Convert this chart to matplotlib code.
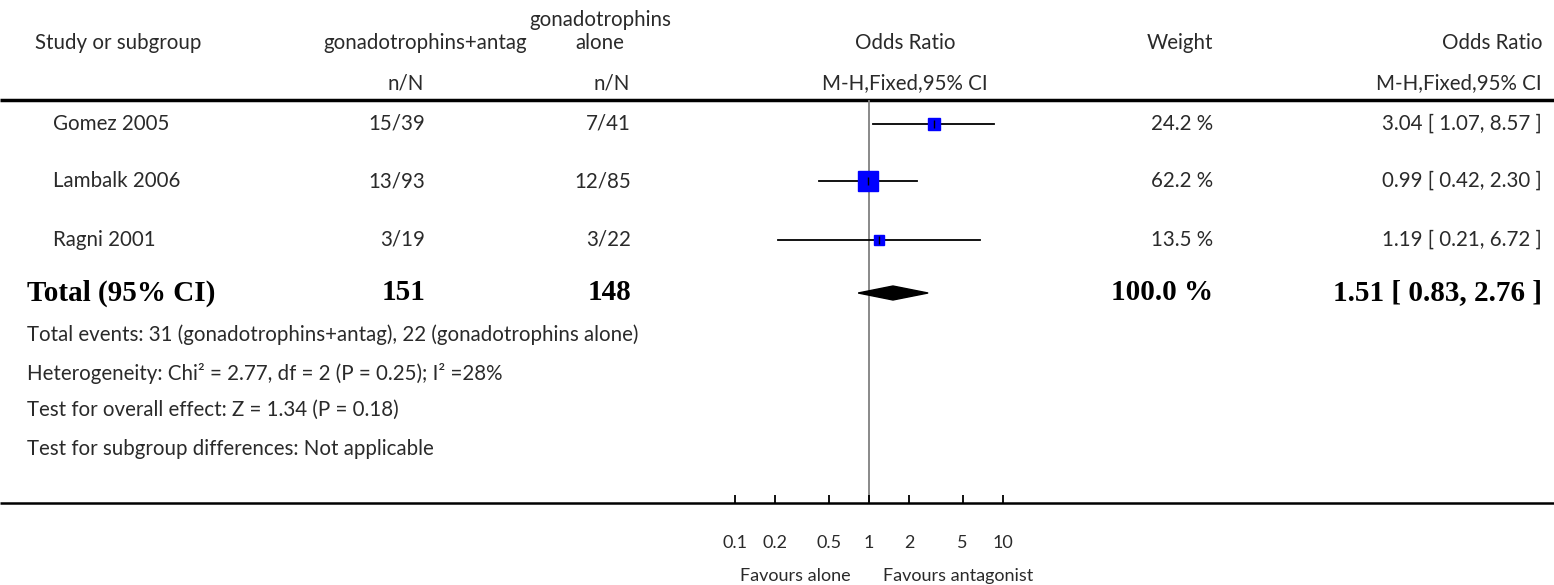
import matplotlib.pyplot as plt
import numpy as np

# data
studies = ["Gomez 2005", "Lambalk 2006", "Ragni 2001"]
antag_nN = ["15/39", "13/93", "3/19"]
alone_nN = ["7/41", "12/85", "3/22"]
odds = [3.04, 0.99, 1.19]
ci_low = [1.07, 0.42, 0.21]
ci_high = [8.57, 2.30, 6.72]
weights = [24.2, 62.2, 13.5]

total_antag = 151
total_alone = 148
total_or = 1.51
total_low = 0.83
total_high = 2.76
total_weight = 100.0

tick_vals = [0.1, 0.2, 0.5, 1, 2, 5, 10]
tick_labels = ["0.1", "0.2", "0.5", "1", "2", "5", "10"]

footer = [
    "Total events: 31 (gonadotrophins+antag), 22 (gonadotrophins alone)",
    "Heterogeneity: Chi\u00b2 = 2.77, df = 2 (P = 0.25); I\u00b2 =28%",
    "Test for overall effect: Z = 1.34 (P = 0.18)",
    "Test for subgroup differences: Not applicable",
]

W, H = 1554, 585
TXT = "#2a2a2a"
SANS = "Lato"
SERIF = "Liberation Serif"
fs = 14.8
bfs = 21

fig = plt.figure(figsize=(W / 100, H / 100), dpi=100)

# overlay axes in pixel coordinates for the table text
bg = fig.add_axes([0, 0, 1, 1])
bg.set_xlim(0, W)
bg.set_ylim(H, 0)
bg.axis("off")


def txt(x, y, s, ha="left", bold=False, size=fs):
    if bold:
        bg.text(x, y, s, ha=ha, va="center", fontsize=size, color="black",
                family=SERIF, fontweight="bold")
    else:
        bg.text(x, y, s, ha=ha, va="center", fontsize=size, color=TXT, family=SANS)


# header
txt(35, 43, "Study or subgroup")
txt(527, 43, "gonadotrophins+antag", ha="right")
txt(600, 20, "gonadotrophins", ha="center")
txt(600, 43, "alone", ha="center")
txt(905, 43, "Odds Ratio", ha="center")
txt(1213, 43, "Weight", ha="right")
txt(1542, 43, "Odds Ratio", ha="right")
txt(424, 83, "n/N", ha="right")
txt(630, 83, "n/N", ha="right")
txt(905, 83, "M-H,Fixed,95% CI", ha="center")
txt(1542, 83, "M-H,Fixed,95% CI", ha="right")

bg.plot([0, W], [100, 100], color="black", lw=2.5, solid_capstyle="butt")
bg.plot([0, W], [503, 503], color="black", lw=1.8, solid_capstyle="butt")

row_y = [124, 181, 240]
total_y = 293
for i, name in enumerate(studies):
    y = row_y[i]
    txt(53, y, name)
    txt(425, y, antag_nN[i], ha="right")
    txt(631, y, alone_nN[i], ha="right")
    txt(1213, y, f"{weights[i]:.1f} %", ha="right")
    txt(1542, y, f"{odds[i]:.2f} [ {ci_low[i]:.2f}, {ci_high[i]:.2f} ]", ha="right")

txt(27, total_y, "Total (95% CI)", bold=True, size=bfs)
txt(425, total_y, str(total_antag), ha="right", bold=True, size=bfs)
txt(631, total_y, str(total_alone), ha="right", bold=True, size=bfs)
txt(1213, total_y, f"{total_weight:.1f} %", ha="right", bold=True, size=bfs)
txt(1542, total_y, f"{total_or:.2f} [ {total_low:.2f}, {total_high:.2f} ]",
    ha="right", bold=True, size=bfs)

for s, y in zip(footer, [335, 373, 410, 449]):
    txt(27, y, s)

# forest plot axes: log scale, 0.1 .. 10
x0, x1 = 735, 1003
ax = fig.add_axes([x0 / W, (H - 503) / H, (x1 - x0) / W, (503 - 100) / H])
ax.set_xscale("log")
ax.set_xlim(0.1, 10)
ax.set_ylim(503, 100)
ax.patch.set_alpha(0)
for sp in ["top", "left", "right", "bottom"]:
    ax.spines[sp].set_visible(False)
ax.set_yticks([])
ax.xaxis.set_ticks(tick_vals)
ax.xaxis.set_ticklabels(tick_labels, fontsize=13, color=TXT, family=SANS)
ax.minorticks_off()
ax.tick_params(axis="x", direction="in", length=6, width=1.3, color="black", pad=23)

ax.axvline(1, color="#808080", lw=1.3, zorder=1)

for i in range(len(studies)):
    y = row_y[i]
    ax.plot([ci_low[i], ci_high[i]], [y, y], color="black", lw=1.3, zorder=2,
            clip_on=False)
    size_pt = 1.85 * np.sqrt(weights[i])
    ax.plot(odds[i], y, marker="s", ms=size_pt, color="#0000ff", mec="#0000ff",
            zorder=3, clip_on=False)
    ax.plot(odds[i], y, marker="|", ms=6, color="black", mew=1, zorder=4, clip_on=False)

dx = [total_low, total_or, total_high, total_or, total_low]
dy = [total_y, total_y - 7, total_y, total_y + 7, total_y]
ax.fill(dx, dy, color="black", zorder=3, clip_on=False)

bg.text(795, 576, "Favours alone", ha="center", va="center", fontsize=13,
        color=TXT, family=SANS)
bg.text(958, 576, "Favours antagonist", ha="center", va="center", fontsize=13,
        color=TXT, family=SANS)

fig.savefig("out.png", dpi=100)
